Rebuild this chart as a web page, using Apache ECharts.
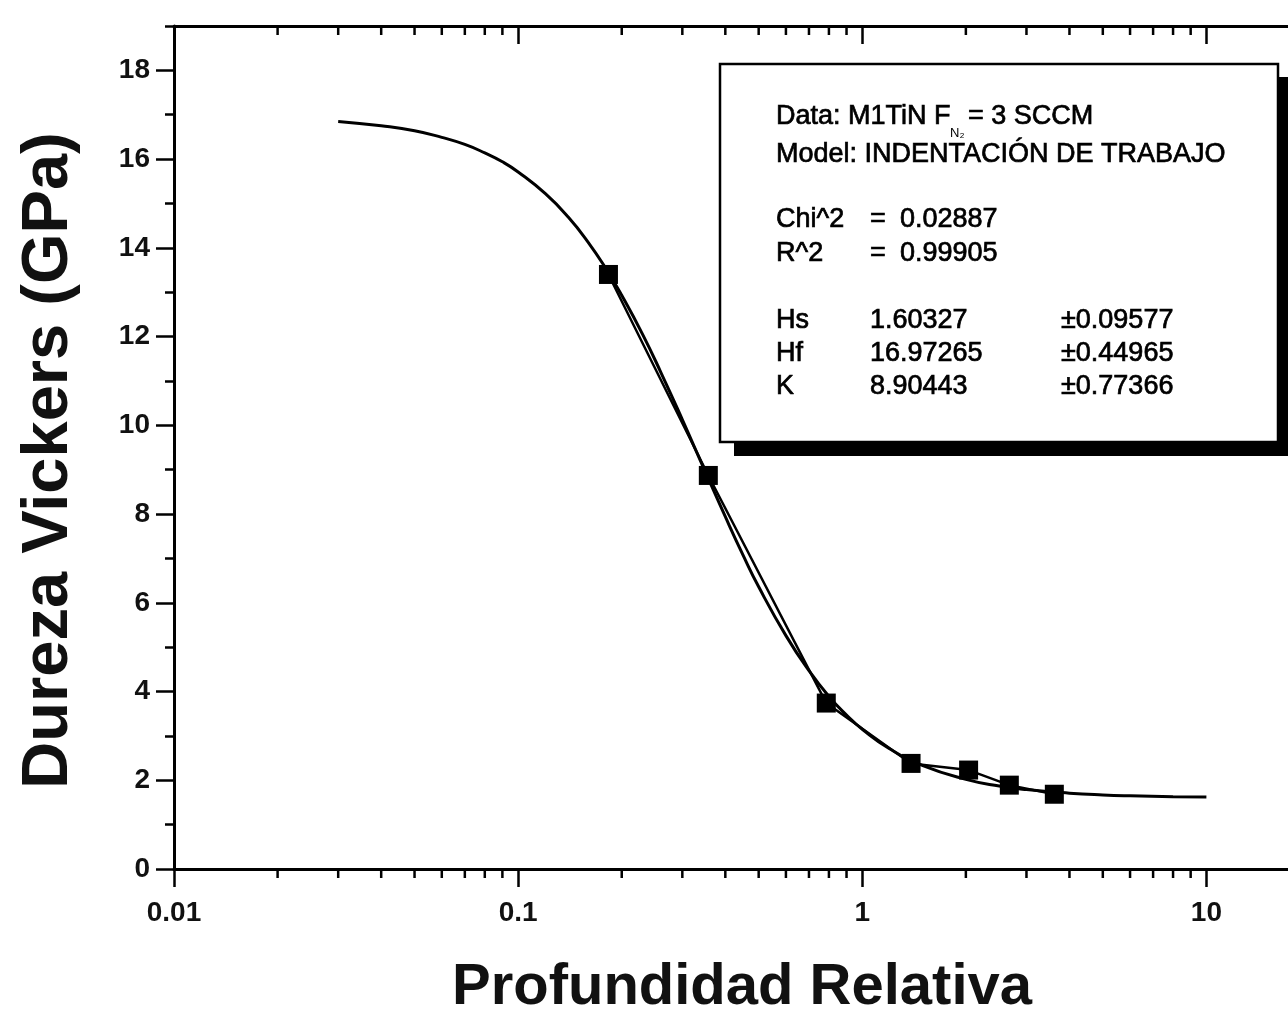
<!DOCTYPE html>
<html><head><meta charset="utf-8">
<script src="https://cdn.jsdelivr.net/npm/echarts@6/dist/echarts.min.js"></script>
<style>html,body{margin:0;padding:0;background:#fff}#c{width:1288px;height:1012px}</style>
</head><body><div id="c"></div>
<script>
// Measured data points (Profundidad Relativa, Dureza Vickers GPa)
const dataX = [0.183, 0.357, 0.786, 1.386, 2.037, 2.675, 3.615];
const dataY = [13.40, 8.87, 3.74, 2.38, 2.23, 1.89, 1.685];
// Fit curve
const fitX = [0.03, 0.04, 0.05, 0.06, 0.07, 0.08, 0.09, 0.1, 0.12, 0.14, 0.16, 0.18, 0.2, 0.23, 0.26, 0.3, 0.35, 0.4, 0.45, 0.5, 0.6, 0.7, 0.8, 0.9, 1.0, 1.2, 1.5, 2, 2.5, 3, 4, 5, 6, 8, 10];
const fitY = [16.85, 16.75, 16.64, 16.49, 16.33, 16.14, 15.94, 15.71, 15.22, 14.69, 14.12, 13.53, 12.93, 12.05, 11.19, 10.13, 8.95, 7.94, 7.08, 6.36, 5.26, 4.47, 3.89, 3.47, 3.15, 2.71, 2.33, 2.02, 1.87, 1.79, 1.71, 1.67, 1.65, 1.63, 1.62];
// Axis ticks
const xMajorTicks = [0.01, 0.1, 1, 10];
const xMinorTicks = [0.02,0.03,0.04,0.05,0.06,0.07,0.08,0.09,0.2,0.3,0.4,0.5,0.6,0.7,0.8,0.9,2,3,4,5,6,7,8,9];
const yTickLabels = [0, 2, 4, 6, 8, 10, 12, 14, 16, 18];
// Text box content
const boxHeader = ['Data: M1TiN F', 'N\u2082', '= 3 SCCM', 'Model: INDENTACI\u00d3N DE TRABAJO'];
const statNames = ['Chi^2', 'R^2'];
const statValues = ['0.02887', '0.99905'];
const paramNames = ['Hs', 'Hf', 'K'];
const paramValues = ['1.60327', '16.97265', '8.90443'];
const paramErrors = ['\u00b10.09577', '\u00b10.44965', '\u00b10.77366'];

const FONT = '"Liberation Sans", Arial, Helvetica, sans-serif';
const chart = echarts.init(document.getElementById('c'), null, {renderer: 'canvas'});

const boxFont = 27;
const boxTexts = [];
function txt(x, y, s) {
  boxTexts.push({type: 'text', x: x, y: y, z: 12,
    style: {text: s, font: boxFont + 'px ' + FONT, fill: '#000', stroke: '#000', lineWidth: 0.7, verticalAlign: 'middle'}});
}
txt(776, 117, boxHeader[0]);
boxTexts.push({type: 'text', x: 950, y: 133, z: 12, style: {text: boxHeader[1], font: '13px ' + FONT, fill: '#000', verticalAlign: 'middle'}});
txt(968, 117, boxHeader[2]);
txt(776, 155, boxHeader[3]);
const statY = [220, 254];
statNames.forEach((n, i) => { txt(776, statY[i], n); txt(870, statY[i], '='); txt(900, statY[i], statValues[i]); });
const parY = [321, 354, 387];
paramNames.forEach((n, i) => { txt(776, parY[i], n); txt(870, parY[i], paramValues[i]); txt(1061, parY[i], paramErrors[i]); });

const xMax = 20;
const option = {
  animation: false,
  backgroundColor: '#fff',
  grid: {left: 174, top: 26, width: 1136, bottom: 143, containLabel: false, outerBoundsMode: 'none'},
  xAxis: [{
    type: 'log', logBase: 10, min: 0.01, max: xMax,
    position: 'bottom',
    axisLine: {show: true, onZero: false, lineStyle: {color: '#000', width: 3}},
    axisTick: {show: true, inside: false, length: 18, lineStyle: {color: '#000', width: 2.5}},
    minorTick: {show: false},
    splitLine: {show: false},
    axisLabel: {show: true, margin: 30, showMaxLabel: false, color: '#111', fontFamily: FONT, fontWeight: 'bold', fontSize: 28,
      formatter: v => (xMajorTicks.some(t => Math.abs(t - v) / t < 1e-6) ? String(+v.toPrecision(6)) : '')},
    name: 'Profundidad Relativa', nameLocation: 'middle', nameGap: 90,
    nameTextStyle: {color: '#111', fontFamily: FONT, fontWeight: 'bold', fontSize: 58, padding: [0, 0, 0, 0]}
  }, {
    type: 'log', logBase: 10, min: 0.01, max: xMax,
    position: 'top',
    axisLine: {show: true, onZero: false, lineStyle: {color: '#000', width: 3}},
    axisTick: {show: true, inside: true, length: 18, lineStyle: {color: '#000', width: 2.5}},
    splitLine: {show: false},
    axisLabel: {show: false}
  }],
  yAxis: [{
    type: 'value', min: 0, max: 19, interval: 2,
    position: 'left',
    axisLine: {show: true, onZero: false, lineStyle: {color: '#000', width: 3}},
    axisTick: {show: true, inside: false, length: 18, lineStyle: {color: '#000', width: 2.5}},
    splitLine: {show: false},
    axisLabel: {show: true, margin: 24, showMaxLabel: false, color: '#111', fontFamily: FONT, fontWeight: 'bold', fontSize: 28,
      formatter: v => (yTickLabels.indexOf(v) >= 0 ? String(v) : '')},
    name: 'Dureza Vickers (GPa)', nameLocation: 'middle', nameGap: 92, nameRotate: 90,
    nameTextStyle: {color: '#111', fontFamily: FONT, fontWeight: 'bold', fontSize: 65, padding: [0, 0, 0, -26]}
  }, {
    type: 'value', min: 0, max: 19, interval: 1,
    position: 'left',
    axisLine: {show: false},
    axisTick: {show: true, inside: false, length: 9, lineStyle: {color: '#000', width: 2.5}},
    splitLine: {show: false},
    axisLabel: {show: false}
  }],
  series: [{
    type: 'custom', xAxisIndex: 0, yAxisIndex: 0, silent: true, clip: false, z: 3,
    data: xMinorTicks.map(v => [v, 0]),
    encode: {x: 0, y: 1},
    renderItem: function (params, api) {
      const p = api.coord([api.value(0), 0]);
      const q = api.coord([api.value(0), 19]);
      return {type: 'group', children: [
        {type: 'line', shape: {x1: p[0], y1: p[1], x2: p[0], y2: p[1] + 9}, style: {stroke: '#000', lineWidth: 2.5}},
        {type: 'line', shape: {x1: q[0], y1: q[1], x2: q[0], y2: q[1] + 9}, style: {stroke: '#000', lineWidth: 2.5}}
      ]};
    }
  }, {
    name: 'fit', type: 'line', smooth: true, showSymbol: false, symbol: 'none',
    data: fitX.map((x, i) => [x, fitY[i]]),
    lineStyle: {color: '#000', width: 3}, z: 4
  }, {
    name: 'data', type: 'line', smooth: false,
    data: dataX.map((x, i) => [x, dataY[i]]),
    symbol: 'rect', symbolSize: 19, showSymbol: true,
    itemStyle: {color: '#000'},
    lineStyle: {color: '#000', width: 2.5}, z: 5
  }],
  graphic: [
    {type: 'rect', z: 10, shape: {x: 734, y: 77, width: 560, height: 379}, style: {fill: '#000'}},
    {type: 'rect', z: 11, shape: {x: 720, y: 64, width: 558, height: 378}, style: {fill: '#fff', stroke: '#000', lineWidth: 2.5}}
  ].concat(boxTexts)
};
chart.setOption(option);
</script></body></html>
